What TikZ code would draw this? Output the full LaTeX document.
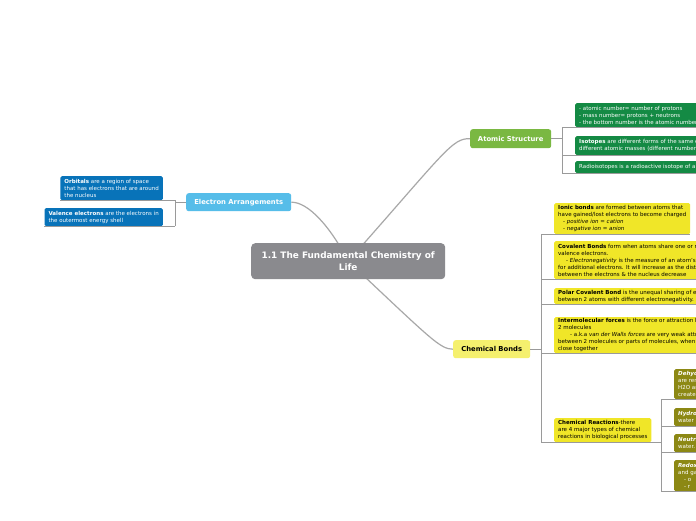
\documentclass[tikz,border=0pt]{standalone}
\usepackage{fontspec}
\setmainfont{DejaVu Sans}
\definecolor{cgray}{HTML}{8A8A8E}
\definecolor{asgreen}{HTML}{7AB842}
\definecolor{eablue}{HTML}{56BDE9}
\definecolor{cbyellow}{HTML}{F5F06E}
\definecolor{gleaf}{HTML}{148A44}
\definecolor{bleaf}{HTML}{0873B9}
\definecolor{yleaf}{HTML}{F0E628}
\definecolor{oleaf}{HTML}{8C8814}
\definecolor{lgray}{HTML}{A8A8A8}
\definecolor{tgray}{HTML}{9A9A9A}
\pgfdeclarelayer{bg}
\pgfdeclarelayer{paper}
\pgfsetlayers{paper,bg,main}
\begin{document}
\begin{tikzpicture}[x=1pt,y=-1pt,
  mainline/.style={draw=lgray, line width=1.2pt},
  trunk/.style={draw=tgray, line width=0.7pt},
  central/.style={fill=cgray, rounded corners=4pt, text=white, align=center,
    font=\fontsize{8.9}{11.5}\selectfont\bfseries, inner sep=0pt, anchor=north west},
  branch/.style={rounded corners=2.5pt, font=\fontsize{6.8}{8}\selectfont\bfseries,
    inner sep=0pt, anchor=north west},
  leaf/.style={rounded corners=1.5pt, align=left, font=\fontsize{5.5}{7}\selectfont,
    inner xsep=4pt, inner ysep=0pt, anchor=north west},
  gl/.style={leaf, fill=gleaf, text=white},
  bl/.style={leaf, fill=bleaf, text=white, anchor=north east},
  yl/.style={leaf, fill=yleaf, text=black},
  ol/.style={leaf, fill=oleaf, text=white},
]
\useasboundingbox (0,0) rectangle (696,520);
\clip (0,0) rectangle (696,520);
\begin{pgfonlayer}{paper}
\fill[white] (0,0) rectangle (696,520);
\end{pgfonlayer}

% central and branches
\node[central, minimum width=194, minimum height=36] (c) at (251,243)
  {1.1 The Fundamental Chemistry of\\Life};
\node[branch, fill=asgreen, text=white, minimum width=81, minimum height=19] (as) at (470,129) {Atomic Structure};
\node[branch, fill=eablue, text=white, minimum width=105, minimum height=18] (ea) at (186,193) {Electron Arrangements};
\node[branch, fill=cbyellow, text=black, minimum width=77, minimum height=18] (cb) at (453,340) {Chemical Bonds};

% atomic structure leaves
\node[gl, minimum height=24] (as1) at (575,103)
  {- atomic number= number of protons\\- mass number= protons + neutrons\\- the bottom number is the atomic number};
\node[gl, minimum height=19] (as2) at (575,136)
  {\textbf{Isotopes} are different forms of the same element with\\different atomic masses (different number of neutrons)};
\node[gl, minimum height=12] (as3) at (575,161)
  {Radioisotopes is a radioactive isotope of an element};

% electron arrangement leaves
\node[bl, minimum height=24] (ea1) at (163,176)
  {\textbf{Orbitals} are a region of space\\that has electrons that are around\\the nucleus};
\node[bl, minimum height=18] (ea2) at (163,208)
  {\textbf{Valence electrons} are the electrons in\\the outermost energy shell};

% chemical bond leaves
\node[yl, minimum height=31] (cb1) at (554,203)
  {\textbf{Ionic bonds} are formed between atoms that\\have gained/lost electrons to become charged\\
   \hspace*{5pt}- \textit{positive ion = cation}\\\hspace*{5pt}- \textit{negative ion = anion}};
\node[yl, minimum height=38] (cb2) at (554,241)
  {\textbf{Covalent Bonds} form when atoms share one or more pairs of\\valence electrons.\\
   \hspace*{8pt}- \textit{Electronegativity} is the measure of an atom's attraction\\
   for additional electrons. It will increase as the distance\\between the electrons \& the nucleus decrease};
\node[yl, minimum height=16] (cb3) at (554,288)
  {\textbf{Polar Covalent Bond} is the unequal sharing of electrons\\between 2 atoms with different electronegativity.};
\node[yl, minimum height=36] (cb4) at (554,317)
  {\textbf{Intermolecular forces} is the force or attraction between\\2 molecules\\
   \hspace*{12pt}- a.k.a \textit{van der Walls forces} are very weak attractions\\
   between 2 molecules or parts of molecules, when\\close together};
\node[yl, minimum height=24] (cb5) at (554,418)
  {\textbf{Chemical Reactions}-there\\are 4 major types of chemical\\reactions in biological processes};

% chemical reaction leaves
\node[ol, minimum height=30] (cr1) at (674,369)
  {\textbf{\textit{Dehydration Synthesis}}\\are removed\\H2O and\\create};
\node[ol, minimum height=18] (cr2) at (674,408)
  {\textbf{\textit{Hydrolysis}}\\water is};
\node[ol, minimum height=18] (cr3) at (674,434)
  {\textbf{\textit{Neutralization}}\\water.};
\node[ol, minimum height=31] (cr4) at (674,460)
  {\textbf{\textit{Redox}}\\and gain\\\hspace*{6pt}- o\\\hspace*{6pt}- r};

% main curves
\begin{pgfonlayer}{bg}
\draw[mainline] (c.center) .. controls (445,152) and (452,138) .. (as.west);
\draw[mainline] (c.center) .. controls (330,226) and (308,202) .. (ea.east);
\draw[mainline] (c.center) .. controls (432,340) and (440,349) .. (cb.west);
\end{pgfonlayer}

% trunk coordinates
\coordinate (tas) at (562,0);
\coordinate (tea) at (175,0);
\coordinate (tcb) at (541,0);
\coordinate (tcr) at (661,0);

% atomic structure tree
\draw[trunk] (as.east) -- (as.east -| tas);
\draw[trunk] (as1.south west -| tas) -- (as3.south west -| tas);
\foreach \n in {as1,as2,as3}
  \draw[trunk] (\n.south west -| tas) -- (\n.south west) -- (\n.south east);

% electron arrangements tree
\draw[trunk] (ea.west) -- (ea.west -| tea);
\draw[trunk] (ea1.south east -| tea) -- (ea2.south east -| tea);
\foreach \n in {ea1,ea2}
  \draw[trunk] (\n.south east -| tea) -- (\n.south east) -- (\n.south west);

% chemical bonds tree
\draw[trunk] (cb.east) -- (cb.east -| tcb);
\draw[trunk] (cb1.south west -| tcb) -- (cb5.south west -| tcb);
\foreach \n in {cb1,cb2,cb3,cb4,cb5}
  \draw[trunk] (\n.south west -| tcb) -- (\n.south west) -- (\n.south east);

% chemical reactions tree
\draw[trunk] (cb5.south east) -- (cb5.south east -| tcr);
\draw[trunk] (cr1.south west -| tcr) -- (cr4.south west -| tcr);
\foreach \n in {cr1,cr2,cr3,cr4}
  \draw[trunk] (\n.south west -| tcr) -- (\n.south west) -- (\n.south east);
\end{tikzpicture}
\end{document}
